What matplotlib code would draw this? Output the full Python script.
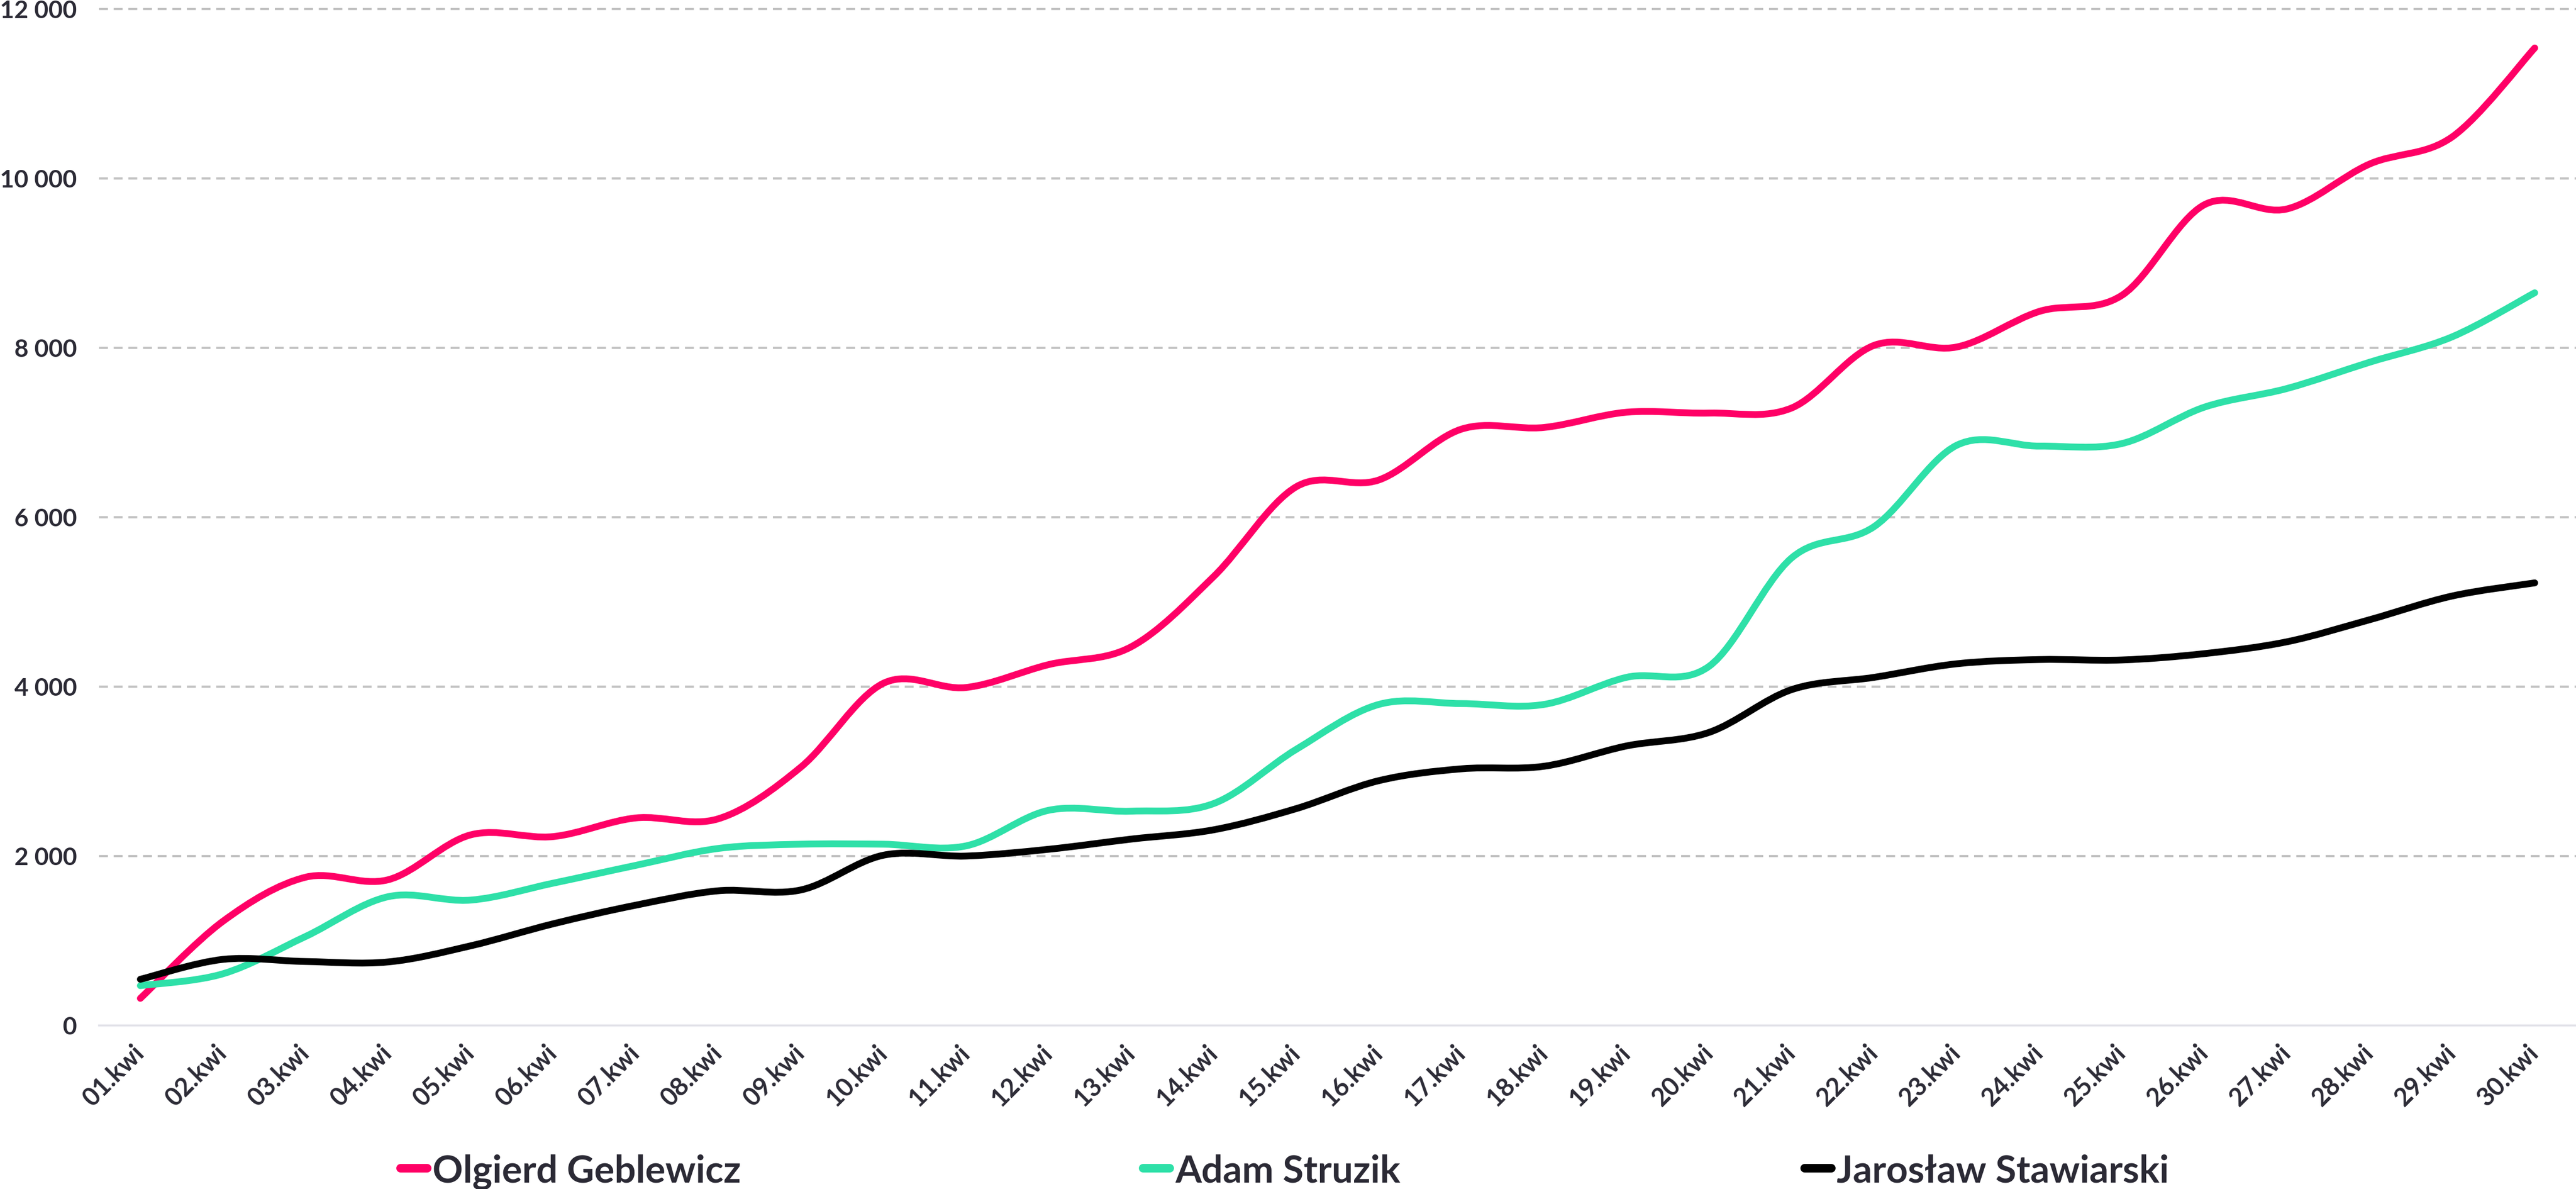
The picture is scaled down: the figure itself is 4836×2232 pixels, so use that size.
import numpy as np
import matplotlib
matplotlib.use('Agg')
import matplotlib.pyplot as plt
from matplotlib.path import Path
from matplotlib.patches import PathPatch
from matplotlib.lines import Line2D
from matplotlib.ticker import FuncFormatter, MultipleLocator

# dane: glosy narastajaco, 1-30 kwietnia
DNI = ['01.kwi', '02.kwi', '03.kwi', '04.kwi', '05.kwi', '06.kwi', '07.kwi', '08.kwi', '09.kwi', '10.kwi',
       '11.kwi', '12.kwi', '13.kwi', '14.kwi', '15.kwi', '16.kwi', '17.kwi', '18.kwi', '19.kwi', '20.kwi',
       '21.kwi', '22.kwi', '23.kwi', '24.kwi', '25.kwi', '26.kwi', '27.kwi', '28.kwi', '29.kwi', '30.kwi']
GEBLEWICZ = [320, 1230, 1750, 1720, 2250, 2230, 2450, 2440, 3050, 4040,
             3990, 4260, 4470, 5300, 6360, 6440, 7040, 7060, 7240, 7230,
             7290, 8030, 8010, 8430, 8620, 9690, 9640, 10170, 10490, 11540]
STRUZIK = [470, 610, 1050, 1520, 1480, 1680, 1890, 2090, 2140, 2140,
           2120, 2540, 2530, 2620, 3260, 3790, 3800, 3790, 4110, 4240,
           5520, 5890, 6850, 6840, 6870, 7300, 7520, 7830, 8130, 8650]
STAWIARSKI = [545, 780, 755, 750, 940, 1200, 1420, 1590, 1600, 2010,
              2000, 2080, 2200, 2310, 2560, 2890, 3030, 3060, 3300, 3460,
              3965, 4110, 4270, 4320, 4315, 4390, 4530, 4790, 5070, 5225]
NAZWY = ['Olgierd Geblewicz', 'Adam Struzik', 'Jarosław Stawiarski']
KOLORY = ['#ff0066', '#2ee0a8', '#000000']

TXT = '#2b2a35'
plt.rcParams['font.family'] = ['Lato', 'DejaVu Sans']


def spline_path(xs, ys, k=1 / 6):
    # gladka krzywa (catmull-rom) przez wszystkie punkty
    n = len(xs)
    verts, codes = [(xs[0], ys[0])], [Path.MOVETO]
    for i in range(n - 1):
        x0, y0 = (xs[i - 1], ys[i - 1]) if i > 0 else (xs[i], ys[i])
        x3, y3 = (xs[i + 2], ys[i + 2]) if i + 2 < n else (xs[i + 1], ys[i + 1])
        x1, y1, x2, y2 = xs[i], ys[i], xs[i + 1], ys[i + 1]
        c1 = (x1 + (x2 - x0) * k, y1 + (y2 - y0) * k)
        c2 = (x2 - (x3 - x1) * k, y2 - (y3 - y1) * k)
        verts += [c1, c2, (x2, y2)]
        codes += [Path.CURVE4] * 3
    return Path(verts, codes)


W, H = 4836, 2232
fig = plt.figure(figsize=(W / 200, H / 200), dpi=200)
ax = fig.add_axes([186 / W, 1 - 1925 / H, 1 - 186 / W, (1925 - 9) / H])

x = np.arange(len(DNI))
for vals, kol, z in zip([GEBLEWICZ, STRUZIK, STAWIARSKI], KOLORY, [3, 4, 5]):
    p = spline_path([float(v) for v in x], [float(v) for v in vals])
    ax.add_patch(PathPatch(p, facecolor='none', edgecolor=kol, lw=4.6,
                           capstyle='round', joinstyle='round', zorder=z))

ax.set_xlim(-0.5, len(DNI) - 0.5)
ax.set_ylim(0, 12050)
ax.yaxis.set_major_locator(MultipleLocator(2000))
ax.yaxis.set_major_formatter(FuncFormatter(lambda v, _: f"{int(v):,}".replace(',', ' ')))
ax.set_xticks(x)
ax.set_xticklabels(DNI, rotation=45, ha='right', va='center', rotation_mode='anchor')
ax.tick_params(axis='x', length=0, pad=16, labelsize=17, labelcolor=TXT)
ax.tick_params(axis='y', length=0, pad=15, labelsize=16.5, labelcolor=TXT)
for lab in ax.get_xticklabels() + ax.get_yticklabels():
    lab.set_fontweight('bold')

for yv in range(2000, 12001, 2000):
    ax.axhline(yv, color='#c2c2c2', lw=1.5, dashes=(4, 2.6), zorder=1, clip_on=False)
for s in ['top', 'right', 'left']:
    ax.spines[s].set_visible(False)
ax.spines['bottom'].set_color('#e1e1e8')
ax.spines['bottom'].set_linewidth(1.3)

# legenda recznie, jak na oryginale
leg_x = [752, 2146, 3388]
ly = 1 - 2193 / H
for lx, kol, naz in zip(leg_x, KOLORY, NAZWY):
    fig.add_artist(Line2D([lx / W, (lx + 50) / W], [ly, ly], color=kol, lw=5.8,
                          solid_capstyle='round', transform=fig.transFigure))
    fig.text((lx + 60) / W, ly, naz, fontsize=25.5, fontweight='bold', color=TXT,
             ha='left', va='center_baseline')

fig.savefig('out.png', dpi=200, facecolor='white')
